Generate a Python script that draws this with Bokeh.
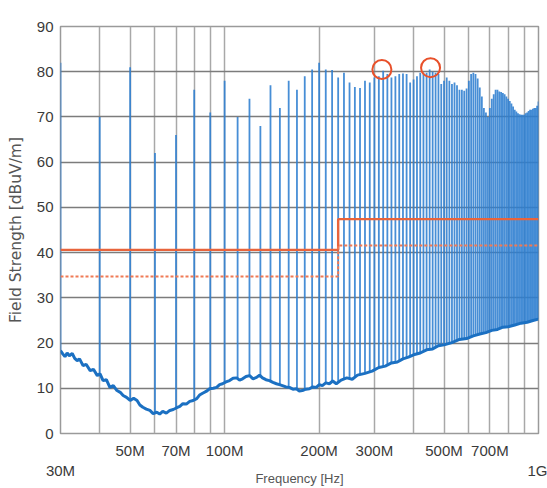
import numpy as np
from bokeh.plotting import figure
from bokeh.models import FixedTicker
from bokeh.embed import file_html
from bokeh.resources import INLINE

# ---- data (frequency in MHz, level in dBuV/m) ----
harm_freq = list(range(30, 1001, 10))
harm_peak = [82, 70, 81, 62, 66, 76, 71, 78, 70, 74,
             68, 77, 72, 78, 76, 79, 80.5, 82, 80.5, 80.4,
             78.7, 79.8, 77.6, 76.6, 76.4, 78, 77.6, 78.7, 79, 80.2,
             79.5, 78.7, 79, 79.5, 79.6, 79.5, 77.6, 78.3, 79, 79.8,
             79.8, 79.8, 80.5, 80, 79.8, 79.5, 77.3, 78, 78.7, 78,
             77.3, 77.6, 77, 76, 76, 75.8, 76.3, 78, 79.5, 79.8,
             79.5, 78.5, 76.5, 74.5, 72, 71, 70, 72, 74, 75,
             76, 76, 75.6, 75.5, 75.3, 75, 74.5, 74, 73.5, 73,
             72.3, 71.6, 71.2, 70.8, 70.6, 70.5, 70.5, 70.5, 70.8, 71,
             71.3, 71.6, 71.6, 71.8, 72, 72, 72.5, 73.4]

floor_freq = [30, 30.5, 31, 31.5, 32, 32.7, 33.3, 33.9, 34.5, 35.4, 36.2, 37.3, 38.2, 39.3,
              40.1, 41.0, 42, 43.1, 44.2, 45.4, 46.5, 47.5, 48.7, 50, 51.3, 52.6, 53.7, 54.9,
              56.3, 57.8, 59.2, 60.8, 62.1, 63.5, 65.2, 66.9, 68.6, 70.4, 72, 73.6, 75.5, 77.4,
              79.4, 81.5, 83.2, 85.1, 87.3, 89.6, 92, 94.3, 96.4, 98.5, 101, 103.7, 106.4, 109.2,
              111.6, 114.1, 117, 120.1, 123.2, 126.4, 129.2, 132, 135.4, 138.9, 142.5, 146.2,
              149.5, 152.8, 156.8, 160.8, 165, 169.3, 173, 176.9, 181.5, 186.2, 191, 196, 200.3,
              204.8, 210, 215.6, 221, 226.9, 235, 245, 255, 265, 280, 295, 310, 325, 340, 355,
              370, 385, 400, 420, 440, 460, 480, 500, 530, 560, 590, 620, 650, 680, 710, 740,
              770, 800, 840, 880, 920, 960, 1000]
floor_db = [18.3, 17.6, 17.0, 17.8, 17.2, 17.7, 16.6, 16.1, 16.5, 15.0, 15.3, 13.9, 14.2, 12.8,
            13.2, 11.7, 11.9, 10.2, 10.6, 9.5, 9.1, 8.4, 8.0, 7.3, 7.8, 7.3, 6.3, 5.8,
            5.4, 5.1, 4.4, 4.7, 4.3, 4.9, 4.5, 5.1, 5.3, 5.7, 6.0, 6.6, 6.5, 7.1,
            7.3, 7.7, 8.5, 8.9, 9.3, 9.9, 10.0, 10.2, 10.8, 11.0, 11.4, 11.7, 12.2, 12.3,
            11.8, 12.1, 12.6, 12.8, 12.1, 12.4, 12.9, 12.3, 11.9, 11.7, 11.3, 11.0,
            10.8, 10.6, 10.3, 10.2, 9.8, 9.9, 9.4, 9.5, 9.8, 9.9, 10.3, 10.2, 10.8,
            10.6, 11.2, 11.0, 11.6, 11.0, 11.8, 12.3, 12.0, 12.9, 13.3, 13.8, 14.6, 14.9, 15.6, 15.8,
            16.5, 16.9, 17.4, 17.8, 18.5, 18.7, 19.4, 19.6, 20.1, 20.8, 21.0, 21.6, 22.0, 22.3, 22.8, 23.0,
            23.5, 23.6, 24.0, 24.4, 24.6, 25.0, 25.3]

limit_qp_freq = [30, 230, 230, 1000]
limit_qp_db = [40.6, 40.6, 47.4, 47.4]
limit_av_freq = [30, 230, 230, 1000]
limit_av_db = [34.7, 34.7, 41.6, 41.6]

mark_freq = [317, 453]
mark_db = [80.5, 80.9]

# upper row of tick labels, and the two edge labels set one line lower
x_tick_vals = [30, 50, 70, 100, 200, 300, 500, 700, 1000]
x_tick_text = ["\n30M", "50M", "70M", "100M", "200M", "300M", "500M", "700M", "\n1G"]
x_grid_vals = [40, 50, 60, 70, 80, 90, 100, 200, 300, 400, 500, 600, 700, 800, 900]
y_tick_vals = [0, 10, 20, 30, 40, 50, 60, 70, 80, 90]

# ---- figure ----
p = figure(width=547, height=488, x_axis_type="log", x_range=(30, 1000), y_range=(0, 90),
           output_backend="svg", toolbar_location=None,
           min_border_left=60, min_border_right=9, min_border_top=26, min_border_bottom=55)
p.background_fill_color = "white"
p.border_fill_color = "white"
p.outline_line_color = "#9a9a9a"
p.outline_line_width = 1.5

TICK_FONT = "Liberation Sans"

p.xaxis.ticker = FixedTicker(ticks=x_tick_vals)
p.xaxis.major_label_overrides = {v: t for v, t in zip(x_tick_vals, x_tick_text)}
p.xaxis.major_tick_out = 0
p.xaxis.major_tick_in = 0
p.xaxis.minor_tick_out = 0
p.xaxis.minor_tick_in = 0
p.xaxis.axis_line_color = None
p.xaxis.major_label_standoff = 8
p.xaxis.major_label_text_font = TICK_FONT
p.xaxis.major_label_text_font_size = "15px"
p.xaxis.major_label_text_color = "#3a3a3a"
p.xaxis.axis_label = "Frequency [Hz]"
p.xaxis.axis_label_text_font = "Liberation Sans"
p.xaxis.axis_label_text_font_size = "13px"
p.xaxis.axis_label_text_font_style = "normal"
p.xaxis.axis_label_text_color = "#555555"
p.xaxis.axis_label_standoff = -11

p.yaxis.ticker = FixedTicker(ticks=y_tick_vals)
p.yaxis.major_tick_out = 0
p.yaxis.major_tick_in = 0
p.yaxis.minor_tick_out = 0
p.yaxis.minor_tick_in = 0
p.yaxis.axis_line_color = None
p.yaxis.major_label_standoff = 7
p.yaxis.major_label_text_font = TICK_FONT
p.yaxis.major_label_text_font_size = "15px"
p.yaxis.major_label_text_color = "#3a3a3a"
p.yaxis.axis_label = "Field Strength [dBuV/m]"
p.yaxis.axis_label_text_font = "DejaVu Sans"
p.yaxis.axis_label_text_font_size = "15.5px"
p.yaxis.axis_label_text_font_style = "normal"
p.yaxis.axis_label_text_color = "#555555"
p.yaxis.axis_label_standoff = 9

p.xgrid.ticker = FixedTicker(ticks=x_grid_vals)
p.xgrid.grid_line_color = "#a8a8a8"
p.xgrid.grid_line_width = 1.5
p.ygrid.ticker = FixedTicker(ticks=y_tick_vals[1:-1])
p.ygrid.grid_line_color = "#7c7c7c"
p.ygrid.grid_line_width = 1.5

# ---- trace: harmonic spikes from the noise floor ----
lf = np.log10(np.array(floor_freq, dtype=float))
base = np.interp(np.log10(np.array(harm_freq, dtype=float)), lf, np.array(floor_db))
p.segment(x0=harm_freq, y0=list(base), x1=harm_freq, y1=harm_peak,
          line_color="#2d7ed0", line_width=1.8, line_alpha=0.88)
p.line(floor_freq, floor_db, line_color="#1b70c2", line_width=3)

# ---- limit lines ----
p.line(limit_qp_freq, limit_qp_db, line_color="#e8643c", line_width=2.4)
p.line(limit_av_freq, limit_av_db, line_color="#f07a55", line_width=2, line_dash="3 2")

# ---- markers ----
p.scatter(mark_freq, mark_db, marker="circle", size=19, fill_color=None,
          line_color="#e8502a", line_width=2)

open("out.html", "w").write(file_html(p, INLINE))
